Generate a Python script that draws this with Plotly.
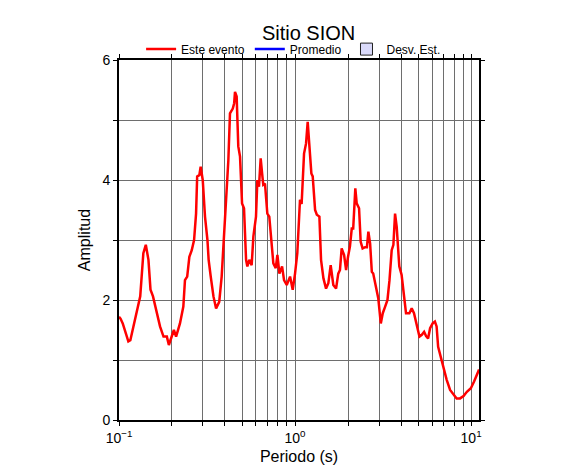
import plotly.graph_objects as go

# Periodo (s) y amplitud
periodo = [
    0.100, 0.102, 0.105, 0.113, 0.116, 0.121, 0.125, 0.132, 0.1375, 0.142,
    0.147, 0.151, 0.156, 0.164, 0.171, 0.179, 0.187, 0.192, 0.199, 0.205,
    0.211, 0.222, 0.232, 0.237, 0.244, 0.251, 0.259, 0.267, 0.274, 0.278,
    0.286, 0.291, 0.299, 0.308, 0.318, 0.323, 0.332, 0.344, 0.356, 0.371,
    0.383, 0.391, 0.406, 0.418, 0.427, 0.443, 0.451, 0.456, 0.466, 0.476,
    0.487, 0.500, 0.513, 0.527, 0.536, 0.550, 0.567, 0.580, 0.600, 0.611,
    0.624, 0.638, 0.650, 0.660, 0.675, 0.696, 0.714, 0.737, 0.753, 0.777,
    0.794, 0.815, 0.844, 0.866, 0.897, 0.937, 0.970, 1.000, 1.030, 1.067,
    1.090, 1.125, 1.155, 1.180, 1.206, 1.238, 1.260, 1.300, 1.330, 1.375,
    1.405, 1.450, 1.500, 1.546, 1.594, 1.650, 1.710, 1.760, 1.800, 1.840,
    1.900, 1.950, 2.000, 2.050, 2.100, 2.140, 2.200, 2.240, 2.310, 2.360,
    2.420, 2.500, 2.560, 2.610, 2.670, 2.730, 2.780, 2.880, 2.970, 3.070,
    3.150, 3.250, 3.350, 3.440, 3.540, 3.620, 3.700, 3.780, 3.910, 4.030,
    4.160, 4.270, 4.460, 4.600, 4.740, 4.920, 5.090, 5.250, 5.410, 5.550,
    5.700, 5.850, 6.050, 6.230, 6.370, 6.500, 6.800, 7.000, 7.270, 7.600,
    7.940, 8.280, 8.660, 9.060, 9.470, 9.970, 10.40, 10.95, 11.10,
]
este_evento = [
    1.72, 1.69, 1.61, 1.31, 1.33, 1.56, 1.72, 2.06, 2.78, 2.92,
    2.67, 2.17, 2.06, 1.78, 1.56, 1.39, 1.39, 1.25, 1.39, 1.50,
    1.39, 1.61, 1.89, 2.33, 2.39, 2.72, 2.83, 3.00, 3.44, 4.06,
    4.08, 4.22, 4.00, 3.39, 3.00, 2.67, 2.39, 2.06, 1.86, 1.97,
    2.39, 2.89, 3.78, 4.33, 5.11, 5.19, 5.28, 5.47, 5.39, 4.56,
    4.39, 3.61, 3.53, 2.67, 2.56, 2.67, 2.58, 3.06, 3.39, 4.00,
    3.89, 4.36, 4.11, 3.92, 3.94, 3.44, 3.39, 2.92, 2.61, 2.53,
    2.75, 2.44, 2.56, 2.33, 2.25, 2.39, 2.17, 2.44, 2.78, 3.67,
    3.60, 4.44, 4.61, 4.97, 4.56, 4.11, 4.06, 3.50, 3.42, 3.39,
    2.67, 2.36, 2.19, 2.28, 2.58, 2.25, 2.19, 2.44, 2.50, 2.86,
    2.75, 2.50, 2.72, 2.89, 3.19, 3.19, 3.86, 3.61, 3.53, 2.97,
    2.86, 2.88, 2.88, 3.14, 2.94, 2.47, 2.44, 2.22, 2.03, 1.61,
    1.78, 1.89, 2.00, 2.33, 2.83, 2.92, 3.44, 3.22, 2.56, 2.42,
    2.11, 1.78, 1.78, 1.86, 1.78, 1.56, 1.39, 1.42, 1.47, 1.40,
    1.36, 1.53, 1.61, 1.64, 1.56, 1.22, 1.00, 0.83, 0.67, 0.50,
    0.42, 0.36, 0.36, 0.40, 0.47, 0.53, 0.64, 0.81, 0.84,
]
# series shown only in the legend (no data in this plot)
promedio_x = [None]
promedio_y = [None]
desv_x = [None]
desv_y = [None]

x_ticks = [0.1, 0.2, 0.3, 0.4, 0.5, 0.6, 0.7, 0.8, 0.9,
           1, 2, 3, 4, 5, 6, 7, 8, 9, 10]
x_labels = ["10<sup>\u22121</sup>"] + [""] * 8 + ["10<sup>0</sup>"] + [""] * 8 + ["10<sup>1</sup>"]
y_ticks = [0, 1, 2, 3, 4, 5, 6]
y_labels = ["0", "", "2", "", "4", "", "6"]

font = "Liberation Sans, Arial, sans-serif"

fig = go.Figure()
fig.add_trace(go.Scatter(
    x=periodo, y=este_evento, mode="lines", name="Este evento",
    line=dict(color="#ff0000", width=2.5),
))
fig.add_trace(go.Scatter(
    x=promedio_x, y=promedio_y, mode="lines", name="Promedio",
    line=dict(color="#0000ff", width=2.5),
))
fig.add_trace(go.Bar(
    x=desv_x, y=desv_y, name="Desv. Est.",
    marker=dict(color="#dadafa", line=dict(color="#202020", width=1)),
))

axis_common = dict(
    showline=True, linecolor="black", linewidth=2, mirror="ticks",
    ticks="outside", ticklen=4, tickcolor="black",
    showgrid=True, gridcolor="#6e6e6e", gridwidth=1, zeroline=False,
    tickfont=dict(size=14, color="black", family=font),
)
fig.update_xaxes(
    type="log", range=[-1, 1.045], tickvals=x_ticks, ticktext=x_labels,
    title=dict(text="Periodo (s)", font=dict(size=16, color="black", family=font), standoff=6),
    **axis_common,
)
fig.update_yaxes(
    range=[0, 6], tickvals=y_ticks, ticktext=y_labels,
    title=dict(text="Amplitud", font=dict(size=16, color="black", family=font), standoff=8),
    **axis_common,
)
# the page body adds an 8px offset, so the figure is a bit smaller than the window
fig.update_layout(
    width=578, height=467,
    margin=dict(l=111, r=107, t=52, b=55),
    paper_bgcolor="white", plot_bgcolor="white",
    font=dict(family=font, color="black"),
    title=dict(text="Sitio SION", x=0.52, xanchor="center", y=0.947, yanchor="middle",
               font=dict(size=20, color="black", family=font)),
    legend=dict(orientation="h", x=0.485, xanchor="center", y=0.99, yanchor="bottom",
                font=dict(size=12, color="black", family=font),
                bgcolor="rgba(0,0,0,0)", tracegroupgap=0),
    showlegend=True,
)

fig.write_html("out.html")
